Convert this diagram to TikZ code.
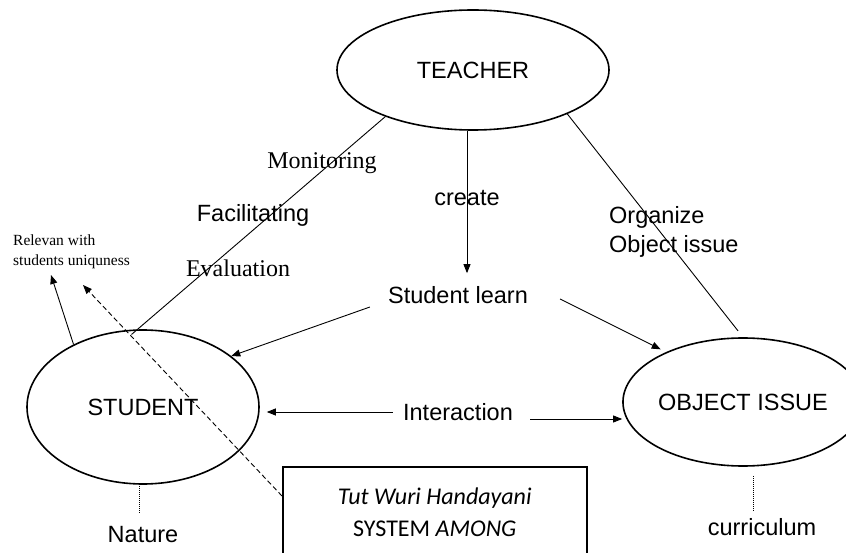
\documentclass[tikz,border=0pt]{standalone}
\usepackage{fontspec}
\setmainfont{Liberation Serif}
\setsansfont{Liberation Sans}
\newfontfamily\boxfont{Carlito}
\usetikzlibrary{shapes.geometric,arrows.meta}

\tikzset{
  actor/.style={ellipse, draw, line width=1.6pt, inner sep=0pt,
    font=\sffamily\fontsize{23.5}{27}\selectfont},
  sanslbl/.style={inner sep=1pt, font=\sffamily\fontsize{23.5}{29}\selectfont},
  seriflbl/.style={inner sep=1pt, font=\fontsize{24}{28}\selectfont},
  link/.style={line width=0.9pt},
  arr/.style={link, -{Triangle[length=9pt,width=7pt]}},
  guide/.style={line width=0.8pt, dash pattern=on 1pt off 1pt}
}

\begin{document}
\begin{tikzpicture}[x=1pt, y=-1pt]
  \useasboundingbox (0,0) rectangle (846,553);

  % Nodes for the three actors
  \node[actor, minimum width=272, minimum height=120] (teacher) at (473,70)  {TEACHER};
  \node[actor, minimum width=232, minimum height=154] (student) at (143,407) {STUDENT};
  \node[actor, minimum width=236, minimum height=128] (object)  at (743,402) {OBJECT ISSUE};

  % Nodes for the middle
  \node[sanslbl] (learn) at (458,295) {Student learn};
  \node[sanslbl] (inter) at (458,412) {Interaction};
  \node[sanslbl] (create) at (467,198) {create};

  % Labels along the teacher lines
  \node[seriflbl] (monitor) at (322,163) {Monitoring};
  \node[sanslbl]  (facil)   at (253,215) {Facilitating};
  \node[seriflbl] (evalu)   at (238,268) {Evaluation};
  \node[sanslbl, anchor=west, align=left] (organize) at (608,232) {Organize\\Object issue};

  % Side notes
  \node[inner sep=0pt, anchor=west, align=left, font=\fontsize{15.5}{20}\selectfont]
    (relevan) at (13,252) {Relevan with\\students uniquness};
  \node[sanslbl] (nature) at (143,535) {Nature};
  \node[sanslbl] (curric) at (762,527) {curriculum};

  % Box of the system
  \node[draw, line width=1.5pt, anchor=north west, minimum width=304, minimum height=90,
    align=center, font=\boxfont\fontsize{24}{32}\selectfont]
    (among) at (282,466) {\textit{Tut Wuri Handayani}\\SYSTEM \textit{AMONG}};

  \coordinate (relevtip) at (51,275);
  \coordinate (dashtip) at (83,285);

  % Edges from the teacher
  \draw[link, shorten >=-8pt] (teacher.-152) -- (student.94);
  \draw[link, shorten >=8pt] (teacher.-25) -- (object.north);
  \draw[arr, shorten >=12pt] (teacher.south -| create) -- (create |- learn.north);

  % Edges from student learn
  \draw[arr] ([xshift=-17pt,yshift=-12pt]learn.west) -- (student.30);
  \draw[arr, shorten >=6pt] ([xshift=31pt,yshift=-4pt]learn.east) -- (object.147);

  % Interaction edges
  \draw[arr, shorten <=9pt, shorten >=7pt] (inter.west) -- (inter.west -| student.east);
  \draw[arr, shorten <=16pt] ([yshift=-7pt]inter.east) -- ([yshift=-7pt]inter.east -| object.west);

  % Side edges
  \draw[arr] (student.138) -- (relevtip);
  \draw[arr, dash pattern=on 5pt off 3pt] ([yshift=-30pt]among.north west) -- (dashtip);
  \draw[guide] ([xshift=-4pt,yshift=-1pt]student.south) -- ([xshift=-4pt,yshift=12pt]nature.north);
  \draw[guide] ([xshift=10pt,yshift=-9pt]object.south) -- ([xshift=-9pt,yshift=6pt]curric.north);

\end{tikzpicture}
\end{document}
